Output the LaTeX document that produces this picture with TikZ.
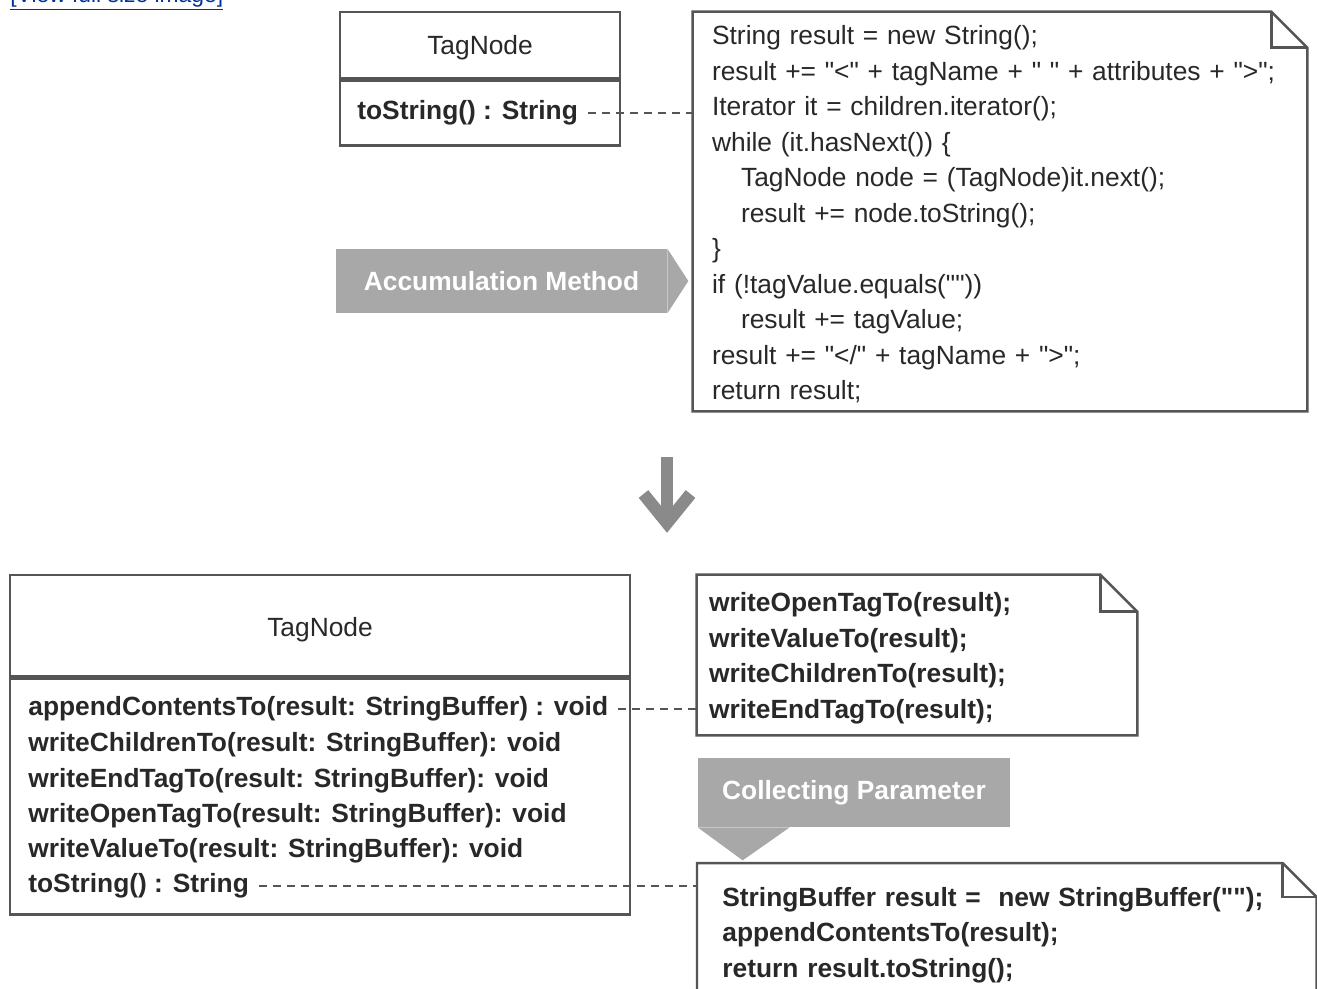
\documentclass[tikz,border=0pt]{standalone}
\usepackage{fontspec}
\setmainfont{Liberation Sans}[Ligatures=TeXOff]
\usepackage{tikz}
\usetikzlibrary{positioning, arrows.meta, calc}

\definecolor{linegray}{RGB}{85,85,85}
\definecolor{txtgray}{RGB}{40,40,40}
\definecolor{callgray}{RGB}{168,168,168}
\definecolor{arrgray}{RGB}{138,138,138}
\definecolor{linkblue}{RGB}{0,51,153}

\newcommand{\dogear}[2]{%
  \draw[notefrm] (#1.north west) -- ([xshift=-#2]#1.north east) -- ([yshift=-#2]#1.north east)
    -- (#1.south east) -- (#1.south west) -- cycle;
  \draw[notefrm] ([xshift=-#2]#1.north east) |- ([yshift=-#2]#1.north east);}

\begin{document}
\begin{tikzpicture}[x=0.02cm, y=-0.02cm, font=\fontsize{15}{20.2}\selectfont,
      cls/.style={draw=linegray, line width=1.4pt, fill=white, inner sep=0pt, text=txtgray, minimum width=#1},
      notefrm/.style={draw=linegray, line width=1.4pt, line join=miter},
      note/.style={align=left, inner ysep=0pt, text=txtgray},
      meth/.style={anchor=west, inner xsep=0.2cm, inner ysep=0pt, text=txtgray, font=\fontsize{15}{20.2}\selectfont\bfseries},
      callout/.style={fill=callgray, text=white, inner sep=0pt, font=\fontsize{15}{20.2}\selectfont\bfseries},
      link/.style={draw=linegray, line width=1.2pt, dash pattern=on 0.16cm off 0.12cm}]
    \useasboundingbox[fill=white] (0,0) rectangle (1317,988);
    \node[anchor=base west, inner sep=0pt, text=linkblue, font=\fontsize{13}{15}\selectfont] (viewlink) at (10,2) {\underline{[View full size image]}};

    \node[cls=5.6cm, minimum height=1.32cm, text height=14.5pt, text depth=3.5pt] (tname) at (480,45) {TagNode};
    \node[cls=5.6cm, minimum height=1.3cm, below=0pt of tname] (tops) {};
    \node[meth] (tm1) at (347,113) {toString() : String};

    \node[note, text width=11.52cm, minimum height=7.98cm, inner xsep=0.38cm, text height=14.3pt] (tnote) at (1000,211.5)
      {String result = new String();\\
       result += "<" + tagName + " " + attributes + ">";\\
       Iterator it = children.iterator();\\
       while (it.hasNext()) \{\\
       \hspace*{0.58cm}TagNode node = (TagNode)it.next();\\
       \hspace*{0.58cm}result += node.toString();\\
       \}\\
       if (!tagValue.equals(""))\\
       \hspace*{0.58cm}result += tagValue;\\
       result += "</" + tagName + ">";\\
       return result;};
    \dogear{tnote}{0.72cm}
    \draw[link] (tm1.east) -- (tm1.east -| tnote.west);

    \node[callout, minimum width=6.62cm, minimum height=1.28cm] (accum) at (501.5,281) {Accumulation Method};
    \fill[callgray] (accum.north east) -- ([xshift=0.42cm]accum.east) -- (accum.south east) -- cycle;

    \coordinate (dtop) at (667,457);
    \coordinate (dtip) at (667,523);
    \draw[arrgray, line width=7pt] (dtop) -- ([yshift=0.2cm]dtip);
    \draw[arrgray, line width=7pt, line join=miter] ([xshift=-0.47cm, yshift=0.58cm]dtip) -- (dtip) -- ([xshift=0.47cm, yshift=0.58cm]dtip);

    \node[cls=12.4cm, minimum height=2.02cm, text height=15.5pt, text depth=3.5pt] (bname) at (320,625.5) {TagNode};
    \node[cls=12.4cm, minimum height=4.72cm, below=0pt of bname] (bops) {};
    \node[meth] (m1) at (18,709) {appendContentsTo(result: StringBuffer) : void};
    \node[meth] (m2) at (18,745) {writeChildrenTo(result: StringBuffer): void};
    \node[meth] (m3) at (18,781) {writeEndTagTo(result: StringBuffer): void};
    \node[meth] (m4) at (18,816) {writeOpenTagTo(result: StringBuffer): void};
    \node[meth] (m5) at (18,851) {writeValueTo(result: StringBuffer): void};
    \node[meth] (m6) at (18,886) {toString() : String};

    \node[note, text width=8.32cm, minimum height=3.2cm, inner xsep=0.24cm, text height=14.3pt, font=\fontsize{15}{20.2}\selectfont\bfseries] (wnote) at (917,655)
      {writeOpenTagTo(result);\\
       writeValueTo(result);\\
       writeChildrenTo(result);\\
       writeEndTagTo(result);};
    \dogear{wnote}{0.74cm}
    \draw[link] (m1.east) -- (m1.east -| wnote.west);

    \node[callout, minimum width=6.24cm, minimum height=1.38cm] (collect) at (854,792.5) {Collecting Parameter};
    \fill[callgray] (collect.south west) -- ([xshift=0.9cm, yshift=-0.66cm]collect.south west) -- ([xshift=1.84cm]collect.south west) -- cycle;

    \node[note, anchor=north west, text width=11.38cm, inner xsep=0.5cm, inner ysep=0.48cm, font=\fontsize{15}{20.2}\selectfont\bfseries] (snote) at (697,863)
      {StringBuffer result = \ new StringBuffer("");\\
       appendContentsTo(result);\\
       return result.toString();};
    \dogear{snote}{0.68cm}
    \draw[link] (m6.east) -- (m6.east -| snote.west);
  \end{tikzpicture}
\end{document}
